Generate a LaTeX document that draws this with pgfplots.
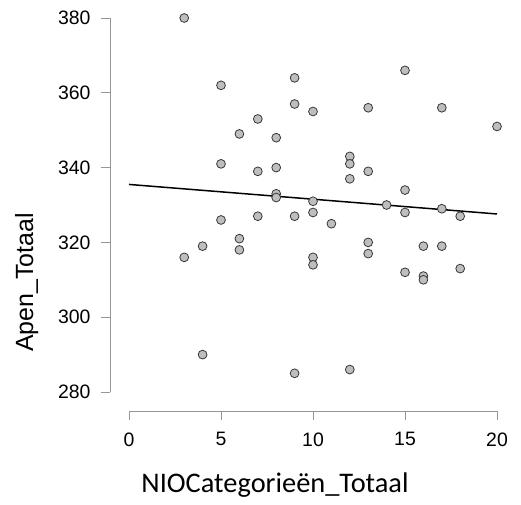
\documentclass[border=0pt]{standalone}
\usepackage{fontspec}
\setmainfont{Liberation Sans}
\newfontfamily\calibri{Carlito}
\usepackage{pgfplots}
\pgfplotsset{compat=1.18}
\definecolor{axgray}{RGB}{150,150,150}
\definecolor{ptfill}{RGB}{190,190,190}
\definecolor{ptdraw}{RGB}{55,55,55}
\begin{document}
\begin{tikzpicture}
\begin{axis}[
  x=18.4bp, y=3.74bp,
  xmin=0, xmax=20, ymin=280, ymax=380,
  axis x line*=bottom, axis y line*=left,
  axis x line shift=19bp, axis y line shift=19bp,
  axis line style={-, draw=axgray, line width=0.9bp},
  xtick={0,5,10,15,20}, ytick={280,300,...,380},
  minor tick num=0,
  tick align=outside, major tick length=9bp,
  tick style={draw=axgray, line width=0.9bp},
  /pgf/number format/assume math mode=true,
  tick label style={font=\fontsize{19.5}{20}\selectfont, black},
  yticklabel style={xshift=-7bp},
  xticklabel style={yshift=-9bp},
  clip=false,
]
\addplot[only marks, mark=*, mark size=4.4bp,
  mark options={fill=ptfill, draw=ptdraw, line width=0.8bp}] coordinates {
(3,380) (3,316) (4,319) (4,290) (5,362) (5,341) (5,326) (6,349) (6,321) (6,318)
(7,353) (7,339) (7,327) (8,348) (8,340) (8,333) (8,332) (9,364) (9,357) (9,327)
(9,285) (10,355) (10,331) (10,328) (10,316) (10,314) (11,325) (12,343) (12,341)
(12,337) (12,286) (13,356) (13,339) (13,320) (13,317) (14,330) (15,366) (15,334)
(15,328) (15,312) (16,319) (16,311) (16,310) (17,356) (17,329) (17,319) (18,327)
(18,313) (20,351)
};
\addplot[black, line width=1.5bp] coordinates {(0,335.5) (20,327.6)};
\node[anchor=base, font=\calibri\fontsize{28.5}{30}\selectfont] at (axis cs:7.935,253.26) {NIOCategorieën\_Totaal};
\node[anchor=base, rotate=90, font=\fontsize{25}{26}\selectfont] at (axis cs:-5.217,309.28) {Apen\_Totaal};
\coordinate (bbl) at (axis cs:-7.011,250.053);
\coordinate (btr) at (axis cs:21.304,384.813);
\end{axis}
\path[use as bounding box] (bbl) rectangle (btr);
\end{tikzpicture}
\end{document}
